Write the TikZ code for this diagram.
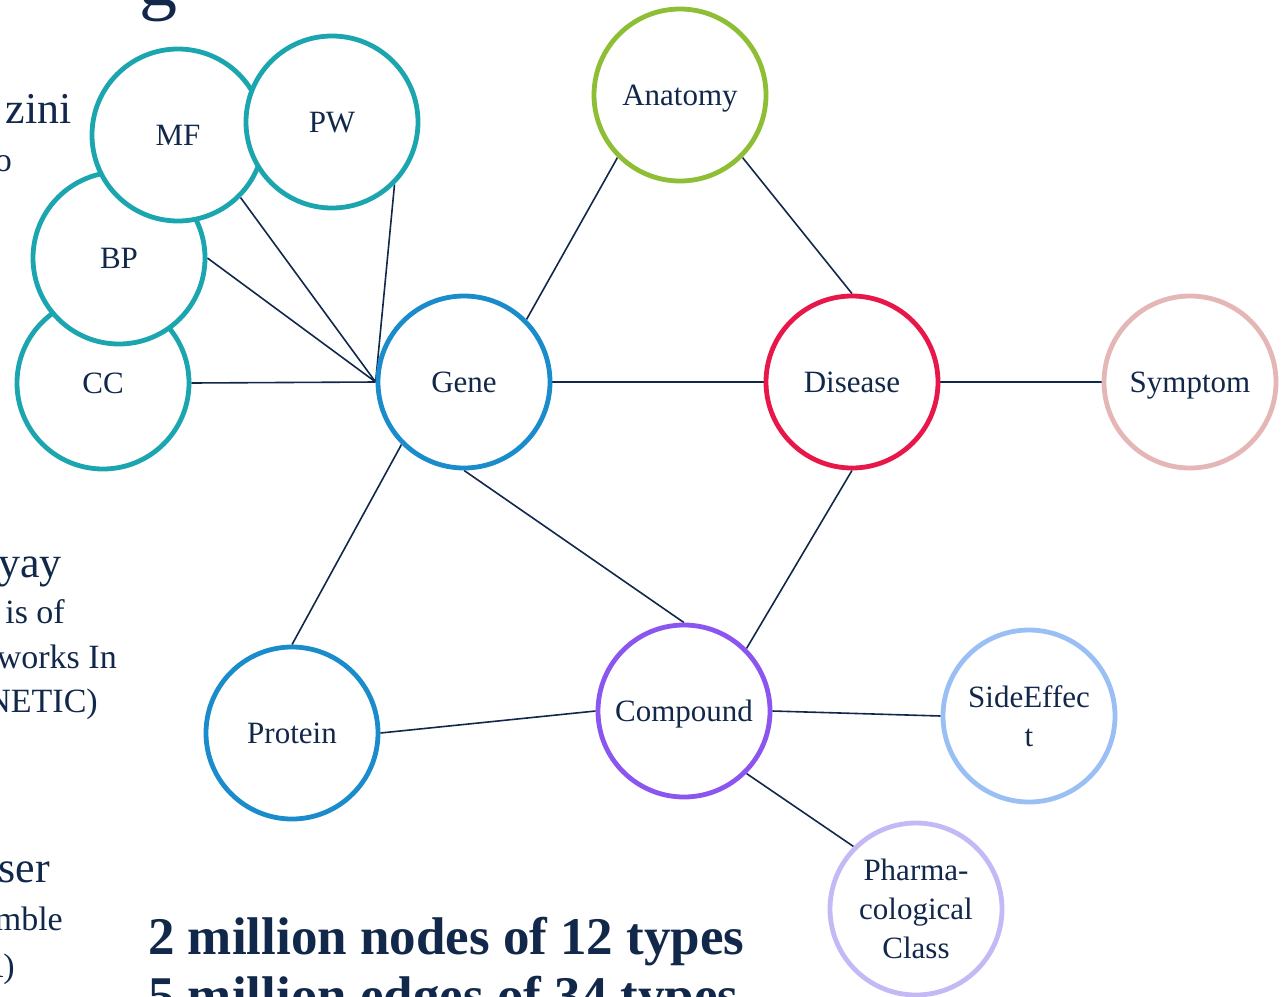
\documentclass[tikz,border=0pt]{standalone}
\usepackage{fontspec}
\setmainfont{Liberation Serif}
\definecolor{navy}{HTML}{12284B}
\definecolor{teal}{HTML}{1BA5AE}
\definecolor{geneblue}{HTML}{1B8CCB}
\definecolor{anatgreen}{HTML}{8DBE33}
\definecolor{disred}{HTML}{E8174A}
\definecolor{sympink}{HTML}{E4B6B6}
\definecolor{comppurple}{HTML}{8B55F0}
\definecolor{sideblue}{HTML}{9ABFF5}
\definecolor{pharmlav}{HTML}{C4B8F5}
\pgfdeclarelayer{bg}
\pgfsetlayers{bg,main}
\tikzset{
  ent/.style={circle, draw=#1, line width=4.8pt, fill=white, minimum size=172pt,
    inner sep=0pt, text=navy, align=center, font=\fontsize{31}{39}\selectfont},
  oneline/.style={text height=20pt, text depth=0pt},
  link/.style={draw=navy, line width=1.6pt},
  side/.style={anchor=base east, inner sep=0pt, text=navy},
  bigside/.style={side, font=\fontsize{44}{50}\selectfont},
  smallside/.style={side, font=\fontsize{34}{40}\selectfont},
  stat/.style={anchor=base west, inner sep=0pt, text=navy,
    font=\fontsize{53}{58}\bfseries\selectfont},
}
\begin{document}
\begin{tikzpicture}[x=1pt, y=-1pt]
\useasboundingbox (0,0) rectangle (1287,996);
\clip (0,0) rectangle (1287,996);

% text of the surrounding slide
\node[side, font=\fontsize{76}{80}\selectfont] (ttl) at (178,5) {g};
\node[bigside] (a1) at (72,123) {zini};
\node[smallside] (a2) at (12,171) {o};
\node[bigside] (b1) at (62,577) {yay};
\node[smallside] (b2) at (65,623) {is of};
\node[smallside] (b3) at (117,668) {works In};
\node[smallside] (b4) at (98,712) {NETIC)};
\node[bigside] (c1) at (50,882) {ser};
\node[smallside] (c2) at (63,930) {mble};
\node[smallside] (c3) at (15,977) {A)};
\node[stat] (s1) at (148,954) {2 million nodes of 12 types};
\node[stat] (s2) at (148,1013) {5 million edges of 34 types};

% entity types
\node[ent=teal, oneline] (CC) at (103,383) {CC};
\node[ent=teal, oneline] (BP) at (119,258) {BP};
\node[ent=teal, oneline] (MF) at (178,135) {MF};
\node[ent=teal, oneline] (PW) at (332,122) {PW};
\node[ent=geneblue, oneline] (Gene) at (464,382) {Gene};
\node[ent=anatgreen, oneline] (Anat) at (680,95) {Anatomy};
\node[ent=disred, oneline] (Dis) at (852,382) {Disease};
\node[ent=sympink, oneline] (Sym) at (1190,382) {Symptom};
\node[ent=geneblue, oneline] (Prot) at (292,733) {Protein};
\node[ent=comppurple, oneline] (Comp) at (684,711) {Compound};
\node[ent=sideblue] (Side) at (1029,716) {SideEffec\\t};
\node[ent=pharmlav] (Pharm) at (916,909) {Pharma-\\cological\\Class};

% relations
\begin{pgfonlayer}{bg}
\draw[link] (MF.south east) -- (Gene.west);
\draw[link] (PW.south east) -- (Gene.west);
\draw[link] (BP.east) -- (Gene.west);
\draw[link] (CC.east) -- (Gene.west);
\draw[link] (Gene.north east) -- (Anat.south west);
\draw[link] (Anat.south east) -- (Dis.north);
\draw[link] (Gene.east) -- (Dis.west);
\draw[link] (Dis.east) -- (Sym.west);
\draw[link] (Gene.south west) -- (Prot.north);
\draw[link] (Gene.south) -- (Comp.north);
\draw[link] (Dis.south) -- (Comp.north east);
\draw[link] (Prot.east) -- (Comp.west);
\draw[link] (Comp.east) -- (Side.west);
\draw[link] (Comp.south east) -- (Pharm.north west);
\end{pgfonlayer}
\end{tikzpicture}
\end{document}
